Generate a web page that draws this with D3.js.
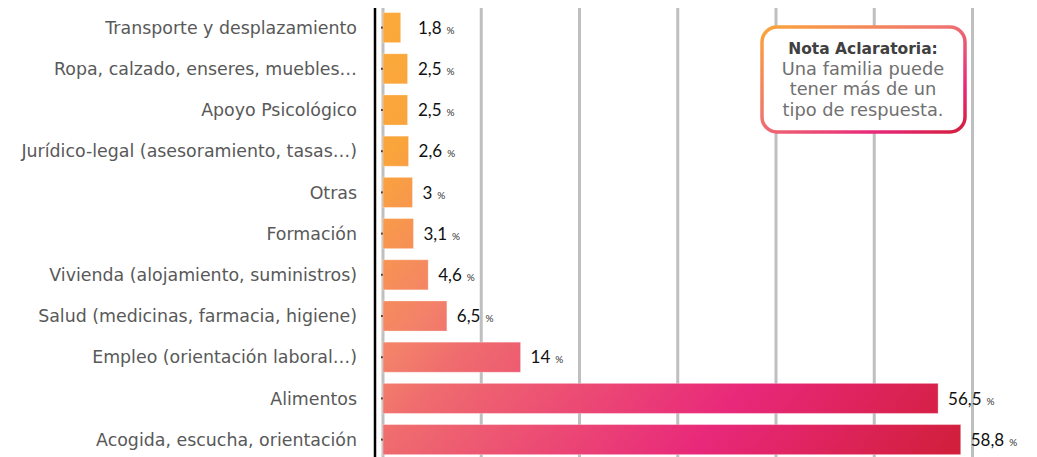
<!DOCTYPE html>
<meta charset="utf-8">
<head>
<script src="https://d3js.org/d3.v7.min.js"></script>
<style>
  body { margin: 0; background: #fff; }
  .cat { font-family: "DejaVu Sans", sans-serif; font-size: 17.4px; fill: #595959; }
  .val { font-family: Lato, sans-serif; font-size: 17px; fill: #111; }
  .pct { font-size: 10px; fill: #333; }
  .note { font-family: "DejaVu Sans", sans-serif; font-size: 17.8px; text-anchor: middle; }
</style>
</head>
<body>
<svg id="chart" width="1037" height="457"></svg>
</body>

<script>
// categories top to bottom
var categories = [
  "Transporte y desplazamiento",
  "Ropa, calzado, enseres, muebles…",
  "Apoyo Psicológico",
  "Jurídico-legal (asesoramiento, tasas…)",
  "Otras",
  "Formación",
  "Vivienda (alojamiento, suministros)",
  "Salud (medicinas, farmacia, higiene)",
  "Empleo (orientación laboral…)",
  "Alimentos",
  "Acogida, escucha, orientación"
];
var values = [1.8, 2.5, 2.5, 2.6, 3, 3.1, 4.6, 6.5, 14, 56.5, 58.8];
var valueLabels = ["1,8", "2,5", "2,5", "2,6", "3", "3,1", "4,6", "6,5", "14", "56,5", "58,8"];
var gridTicks = [0, 10, 20, 30, 40, 50, 60];
var noteTitle = "Nota Aclaratoria:";
var noteLines = ["Una familia puede", "tener más de un", "tipo de respuesta."];

var svg = d3.select("#chart");

var x = d3.scaleLinear().domain([0, 60]).range([383, 972.5]);
var y = d3.scaleBand()
  .domain(categories)
  .range([7, 460.2])
  .paddingInner(0.27)
  .paddingOuter(0.135);

var defs = svg.append("defs");

// one diagonal gradient shared by all bars
var barGrad = defs.append("linearGradient")
  .attr("id", "barGrad")
  .attr("gradientUnits", "userSpaceOnUse")
  .attr("x1", 383).attr("y1", 28)
  .attr("x2", 936).attr("y2", 470);
[["0", "#FBA93A"], ["0.12", "#FAA43C"], ["0.3", "#F3816A"], ["0.37", "#EF6C6E"],
 ["0.72", "#E8287A"], ["1", "#D21F3C"]].forEach(function(s) {
  barGrad.append("stop").attr("offset", s[0]).attr("stop-color", s[1]);
});

var boxGrad = defs.append("linearGradient")
  .attr("id", "boxGrad")
  .attr("x1", 0).attr("y1", 0).attr("x2", 1).attr("y2", 1);
[["0", "#FBA43A"], ["0.45", "#EF7470"], ["0.78", "#E8287A"], ["1", "#D21F3C"]].forEach(function(s) {
  boxGrad.append("stop").attr("offset", s[0]).attr("stop-color", s[1]);
});

// gridlines
svg.append("g")
  .selectAll("line")
  .data(gridTicks)
  .enter()
  .append("line")
    .attr("x1", d => x(d)).attr("x2", d => x(d))
    .attr("y1", 8).attr("y2", 457)
    .attr("stroke", "#BFBFBF")
    .attr("stroke-width", 3);

// black axis line
svg.append("line")
  .attr("x1", 375).attr("x2", 375)
  .attr("y1", 8).attr("y2", 457)
  .attr("stroke", "#000")
  .attr("stroke-width", 2.5);

// little tick marks
var axis = svg.append("g")
  .attr("transform", "translate(384,0)")
  .call(d3.axisLeft(y).tickSizeInner(3).tickSizeOuter(0).tickFormat(""));
axis.select(".domain").remove();
axis.selectAll("line").attr("stroke", "#5a3a2a").attr("stroke-width", 2);

// bars
svg.append("g")
  .selectAll("rect")
  .data(values)
  .enter()
  .append("rect")
    .attr("x", x(0))
    .attr("y", (d, i) => y(categories[i]))
    .attr("width", d => x(d) - x(0))
    .attr("height", y.bandwidth())
    .attr("fill", "url(#barGrad)")
    .attr("stroke", "rgba(255,255,255,0.3)")
    .attr("stroke-width", 1);

// category labels
svg.append("g")
  .selectAll("text")
  .data(categories)
  .enter()
  .append("text")
    .attr("class", "cat")
    .attr("x", 357)
    .attr("y", d => y(d) + y.bandwidth() / 2)
    .attr("dy", "0.36em")
    .attr("text-anchor", "end")
    .text(d => d);

// value labels
var vl = svg.append("g")
  .selectAll("text")
  .data(values)
  .enter()
  .append("text")
    .attr("class", "val")
    .attr("x", d => Math.max(x(d) + 10, 418))
    .attr("y", (d, i) => y(categories[i]) + y.bandwidth() / 2)
    .attr("dy", "0.36em");
vl.append("tspan").text((d, i) => valueLabels[i]);
vl.append("tspan").attr("class", "pct").attr("dx", 5).text("%");

// note box
var note = svg.append("g");
note.append("rect")
  .attr("x", 762).attr("y", 27)
  .attr("width", 203).attr("height", 105)
  .attr("rx", 15).attr("ry", 15)
  .attr("fill", "#fff")
  .attr("stroke", "url(#boxGrad)")
  .attr("stroke-width", 3.5);
note.append("text")
  .attr("class", "note")
  .attr("x", 863).attr("y", 54)
  .attr("fill", "#404040")
  .style("font-weight", "bold")
  .style("font-size", "15.5px")
  .text(noteTitle);
note.selectAll("text.line")
  .data(noteLines)
  .enter()
  .append("text")
    .attr("class", "note line")
    .attr("x", 863)
    .attr("y", (d, i) => 74.5 + i * 20.5)
    .attr("fill", "#707070")
    .text(d => d);
</script>
